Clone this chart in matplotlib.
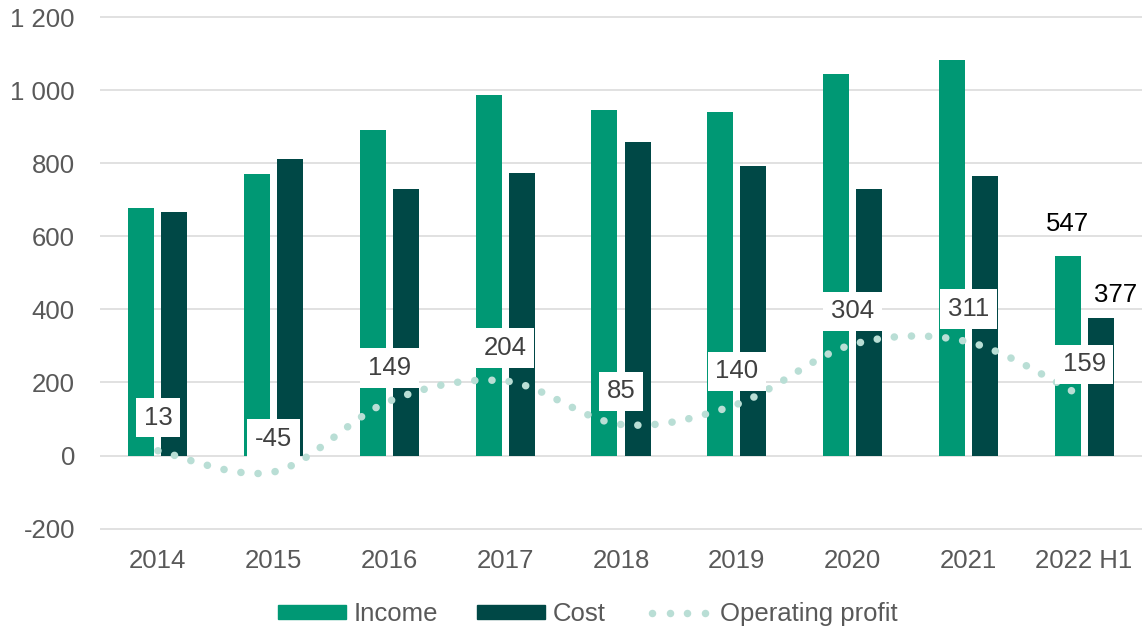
import matplotlib
matplotlib.use("Agg")
import matplotlib.pyplot as plt
from matplotlib.path import Path
from matplotlib.patches import PathPatch, Patch
from matplotlib.lines import Line2D
from matplotlib.ticker import FuncFormatter
import numpy as np

years = ["2014", "2015", "2016", "2017", "2018", "2019", "2020", "2021", "2022 H1"]
income = [679, 772, 891, 986, 947, 940, 1046, 1084, 547]
cost = [668, 813, 731, 773, 858, 794, 729, 765, 377]
profit = [13, -45, 149, 204, 85, 140, 304, 311, 159]

c_income = "#009874"
c_cost = "#004846"
c_profit = "#b9ded5"
grey = "#595959"

plt.rcParams["font.family"] = ["Liberation Sans", "DejaVu Sans"]
fs = 18.5

fig = plt.figure(figsize=(11.42, 6.29), dpi=100)
# y scale: 0 -> 455.5 px, 0.3652 px per unit
ppu = 0.3652
ymin, ymax = -210, 1210
top_px = 455.5 - ymax * ppu
bot_px = 455.5 - ymin * ppu
ax = fig.add_axes([100 / 1142, (629 - bot_px) / 629, 1042 / 1142, (bot_px - top_px) / 629])
ax.set_xlim(-0.5, len(years) - 0.5)
ax.set_ylim(ymin, ymax)

x = np.arange(len(years))
w = 0.225
off = 0.143
ax.bar(x - off, income, w, color=c_income, zorder=2)
ax.bar(x + off, cost, w, color=c_cost, zorder=2)

# smoothed profit line (Bezier through the points, like Excel's smooth line)
pts = np.column_stack([x, profit]).astype(float)
verts = [tuple(pts[0])]
codes = [Path.MOVETO]
n = len(pts)
for i in range(n - 1):
    p0 = pts[max(i - 1, 0)]
    p1 = pts[i]
    p2 = pts[i + 1]
    p3 = pts[min(i + 2, n - 1)]
    c1 = p1 + (p2 - p0) / 6
    c2 = p2 - (p3 - p1) / 6
    verts += [tuple(c1), tuple(c2), tuple(p2)]
    codes += [Path.CURVE4] * 3
dot_ls = (0, (0.02, 2.27))
line = PathPatch(Path(verts, codes), fill=False, edgecolor=c_profit, lw=5.4,
                 linestyle=dot_ls, capstyle="round", zorder=3)
ax.add_patch(line)

for i, v in enumerate(profit):
    ax.annotate(str(v), xy=(i, v), xytext=(0, 33), textcoords="offset pixels",
                ha="center", va="center", fontsize=fs, color="#404040", zorder=5,
                bbox=dict(boxstyle="square,pad=0.3", fc="white", ec="none"))

# value labels for the last period
ax.annotate(str(income[-1]), xy=(x[-1] - off, income[-1]), xytext=(0, 25),
            textcoords="offset pixels", ha="center", va="baseline", fontsize=fs, color="black")
ax.annotate(str(cost[-1]), xy=(x[-1] + off, cost[-1]), xytext=(15, 16),
            textcoords="offset pixels", ha="center", va="baseline", fontsize=fs, color="black")

ax.set_yticks(range(-200, 1201, 200))
ax.yaxis.set_major_formatter(FuncFormatter(lambda v, p: f"{int(v):,}".replace(",", " ")))
ax.set_xticks(x)
ax.set_xticklabels(years)
ax.tick_params(axis="both", length=0, labelsize=fs, labelcolor=grey)
ax.tick_params(axis="y", pad=18)
ax.tick_params(axis="x", pad=12)
ax.grid(axis="y", color="#d9d9d9", lw=1.1, zorder=0)
ax.set_axisbelow(True)
for s in ax.spines.values():
    s.set_visible(False)

handles = [Patch(color=c_income), Patch(color=c_cost),
           Line2D([], [], color=c_profit, ls="none", marker="o", ms=5.4, mew=0)]
fig.legend(handles, ["Income", "Cost", "Operating profit"], loc="center",
           bbox_to_anchor=(588 / 1142, 1 - 614 / 629), ncol=3, frameon=False,
           fontsize=fs, labelcolor=grey, handlelength=2.65, handleheight=0.5,
           handletextpad=0.3, columnspacing=1.5, numpoints=4)

fig.savefig("out.png", dpi=100)
plt.close()
